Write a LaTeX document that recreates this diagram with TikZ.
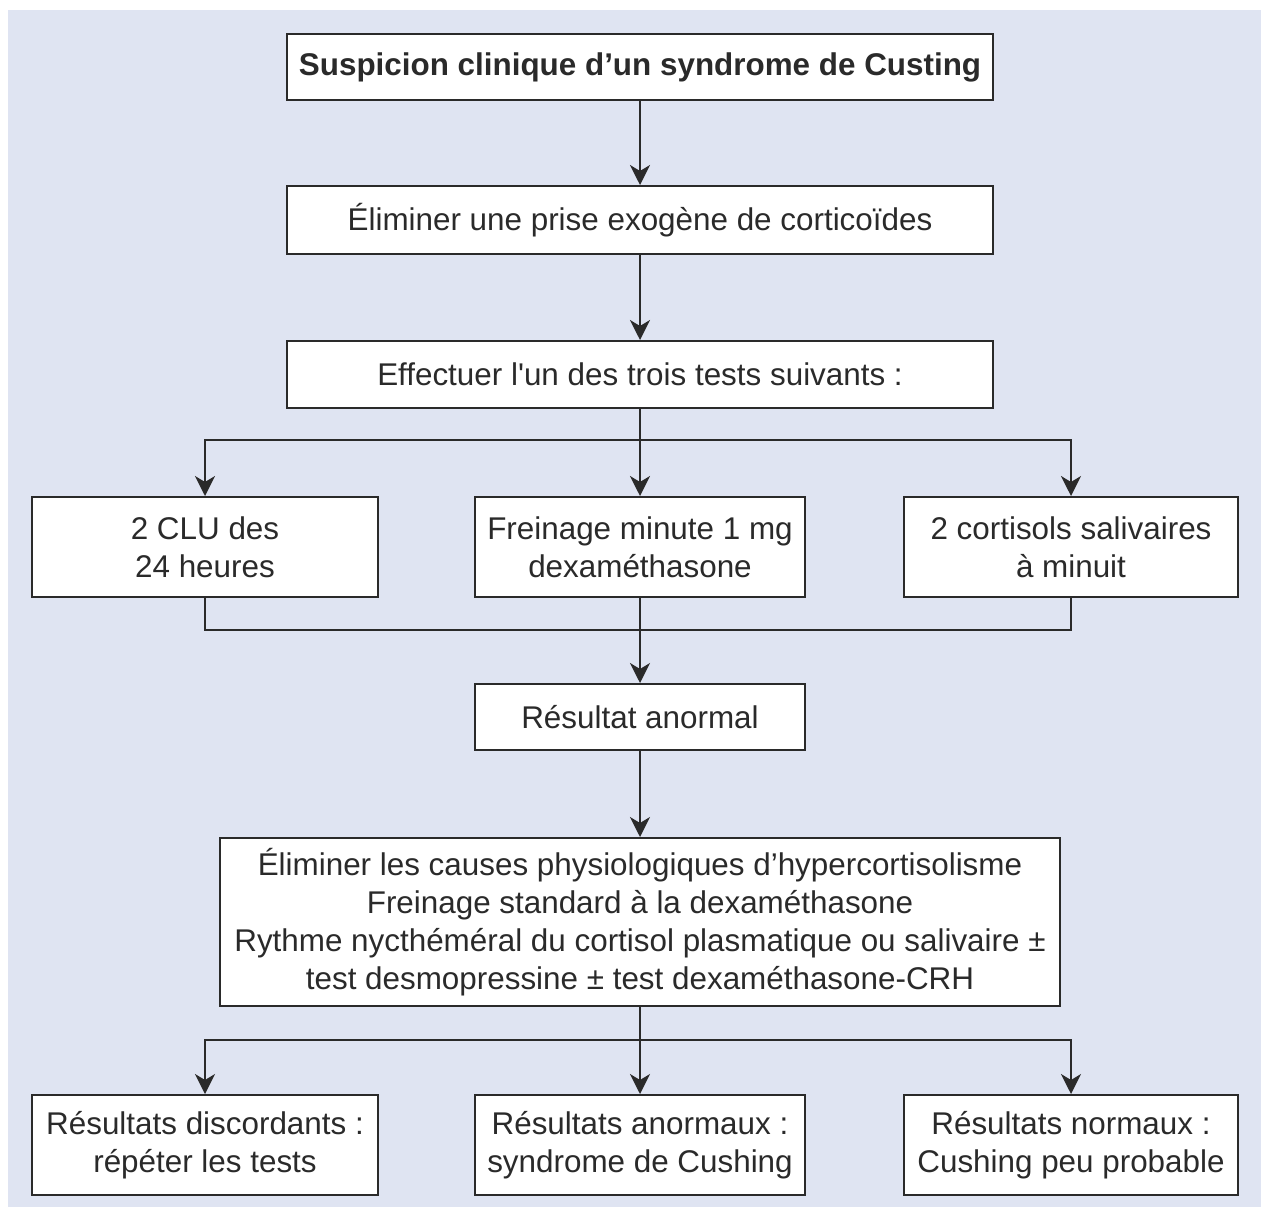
\documentclass[tikz,border=0pt]{standalone}
\usepackage{fontspec}
\setmainfont{Liberation Sans}
\usetikzlibrary{arrows.meta}
\definecolor{bgblue}{HTML}{DFE4F2}
\definecolor{ink}{HTML}{2A2A2A}
\begin{document}
\begin{tikzpicture}[x=1pt,y=-1pt,
  box/.style={draw=ink, line width=2pt, fill=white, align=center, text=ink,
    inner sep=0pt, font=\fontsize{31.4}{38}\selectfont},
  conn/.style={draw=ink, line width=2pt},
  arr/.style={conn, -{Stealth[length=20pt,width=20pt,inset=6pt]}}]
\useasboundingbox (0,0) rectangle (1261,1207);
\fill[white] (0,0) rectangle (1261,1207);
\fill[bgblue] (8,10) rectangle (1261,1207);

\node[box, minimum width=706pt, minimum height=66pt] (b1) at (640,67) {\raisebox{-3pt}{\textbf{Suspicion clinique d’un syndrome de Custing}}};
\node[box, minimum width=706pt, minimum height=68pt] (b2) at (640,220) {Éliminer une prise exogène de corticoïdes};
\node[box, minimum width=706pt, minimum height=67pt] (b3) at (640,374.5) {Effectuer l\textquotesingle un des trois tests suivants :};

\node[box, minimum width=346pt, minimum height=100pt] (b4a) at (205,547) {2 CLU des\\24 heures};
\node[box, minimum width=330pt, minimum height=100pt] (b4b) at (640,547) {Freinage minute 1 mg\\dexaméthasone};
\node[box, minimum width=334pt, minimum height=100pt] (b4c) at (1071,547) {2 cortisols salivaires\\à minuit};

\node[box, minimum width=330pt, minimum height=66pt] (b5) at (640,717) {Résultat anormal};

\node[box, minimum width=840pt, minimum height=168pt] (b6) at (640,922) {Éliminer les causes physiologiques d’hypercortisolisme\\Freinage standard à la dexaméthasone\\Rythme nycthéméral du cortisol plasmatique ou salivaire ±\\test desmopressine ± test dexaméthasone-CRH};

\node[box, minimum width=346pt, minimum height=100pt] (b7a) at (205,1145) {Résultats discordants :\\répéter les tests};
\node[box, minimum width=330pt, minimum height=100pt] (b7b) at (640,1145) {Résultats anormaux :\\syndrome de Cushing};
\node[box, minimum width=334pt, minimum height=100pt] (b7c) at (1071,1145) {Résultats normaux :\\Cushing peu probable};

\coordinate (j1) at (640,440);
\coordinate (j2) at (640,630);
\coordinate (j3) at (640,1040);

\draw[arr] (b1.south) -- (b2.north);
\draw[arr] (b2.south) -- (b3.north);
\draw[conn] (b3.south) -- (j1);
\draw[arr] (j1) -| (b4a.north);
\draw[arr] (j1) -| (b4c.north);
\draw[arr] (j1) -- (b4b.north);
\draw[conn] (b4a.south) |- (j2);
\draw[conn] (b4c.south) |- (j2);
\draw[conn] (b4b.south) -- (j2);
\draw[arr] (j2) -- (b5.north);
\draw[arr] (b5.south) -- (b6.north);
\draw[conn] (b6.south) -- (j3);
\draw[arr] (j3) -| (b7a.north);
\draw[arr] (j3) -| (b7c.north);
\draw[arr] (j3) -- (b7b.north);
\end{tikzpicture}
\end{document}
